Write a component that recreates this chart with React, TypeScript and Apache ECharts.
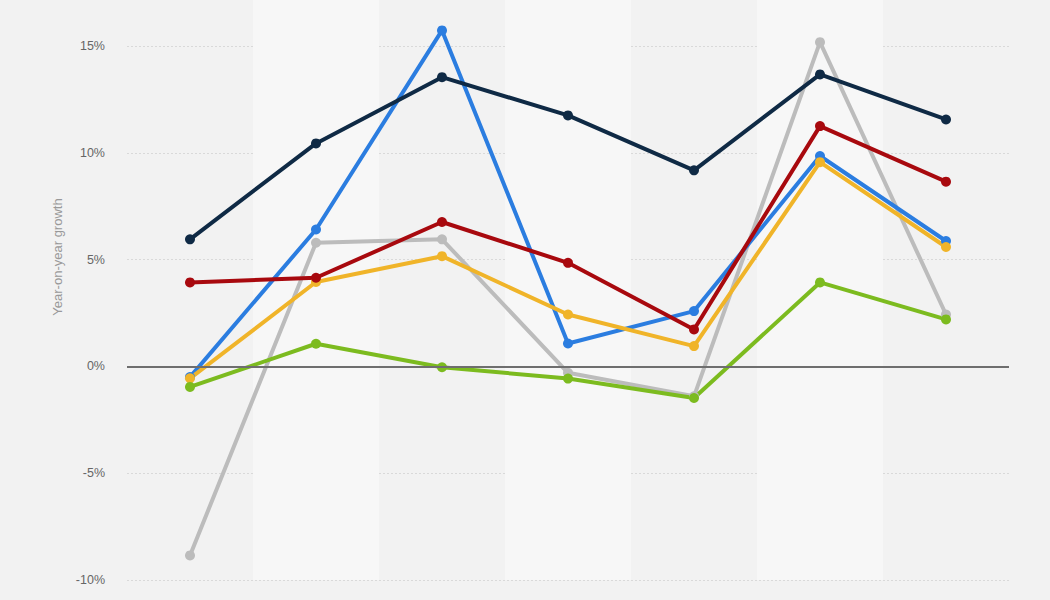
import React, { useEffect, useRef } from "react";
import * as echarts from "echarts";

const categories = ["1", "2", "3", "4", "5", "6", "7"];
const navy = [5.95, 10.44, 13.54, 11.75, 9.18, 13.67, 11.56];
const blue = [-0.5, 6.41, 15.73, 1.07, 2.59, 9.85, 5.87];
const red = [3.93, 4.15, 6.76, 4.85, 1.73, 11.25, 8.65];
const yellow = [-0.56, 3.95, 5.16, 2.43, 0.95, 9.56, 5.59];
const green = [-0.96, 1.06, -0.04, -0.57, -1.48, 3.93, 2.2];
const gray = [-8.85, 5.79, 5.95, -0.3, -1.4, 15.18, 2.43];
const yTicks = [-10, -5, 0, 5, 10, 15];

const seriesDefs = [
  { name: "gray", data: gray, color: "#bcbcbc" },
  { name: "blue", data: blue, color: "#2b7de0" },
  { name: "yellow", data: yellow, color: "#f0b429" },
  { name: "green", data: green, color: "#7cbb1f" },
  { name: "red", data: red, color: "#a8090e" },
  { name: "navy", data: navy, color: "#0f2a45" },
];

export default function App() {
  const ref = useRef<HTMLDivElement>(null);
  useEffect(() => {
    document.body.style.margin = "0";
    const chart = echarts.init(ref.current!, null, { renderer: "svg" });
    chart.setOption({
      animation: false,
      backgroundColor: "#f2f2f2",
      textStyle: { fontFamily: "Liberation Sans, Arial, sans-serif" },
      grid: [
        { left: 127, right: 41, top: 46, bottom: 20 },
        { left: 127, right: 41, top: 0, bottom: 20 },
      ],
      xAxis: [
        {
          type: "category",
          data: categories,
          gridIndex: 0,
          boundaryGap: true,
          axisLine: { show: false },
          axisTick: { show: false },
          axisLabel: { show: false },
          splitLine: { show: false },
          z: 3,
        },
        {
          type: "category",
          data: categories,
          gridIndex: 1,
          boundaryGap: true,
          axisLine: { show: false },
          axisTick: { show: false },
          axisLabel: { show: false },
          splitLine: { show: false },
          splitArea: {
            show: true,
            areaStyle: { color: ["rgba(0,0,0,0)", "#f7f7f7"] },
          },
          z: 0,
        },
      ],
      yAxis: [
        {
          type: "value",
          gridIndex: 0,
          min: yTicks[0],
          max: yTicks[yTicks.length - 1],
          interval: 5,
          axisLine: { show: false },
          axisTick: { show: false },
          axisLabel: {
            formatter: (v: number) => `${v}%`,
            color: "#666666",
            fontSize: 12.5,
            margin: 22,
          },
          splitLine: {
            lineStyle: { color: "#d9d9d9", type: [2, 2], width: 1 },
          },
        },
        {
          type: "value",
          gridIndex: 1,
          min: 0,
          max: 1,
          show: false,
          splitLine: { show: false },
        },
      ],
      graphic: [
        {
          type: "text",
          x: 57,
          y: 257,
          rotation: Math.PI / 2,
          style: {
            text: "Year-on-year growth",
            fill: "#999999",
            fontSize: 13,
            fontFamily: "Liberation Sans, Arial, sans-serif",
            align: "center",
            verticalAlign: "middle",
          },
        },
      ],
      series: [
        {
          type: "line",
          xAxisIndex: 1,
          yAxisIndex: 1,
          data: [],
          silent: true,
        },
        {
          type: "line",
          xAxisIndex: 0,
          yAxisIndex: 0,
          data: [],
          silent: true,
          markLine: {
            silent: true,
            symbol: "none",
            label: { show: false },
            lineStyle: { color: "#6e6e6e", width: 2, type: "solid" },
            data: [{ yAxis: 0 }],
          },
          z: 1,
        },
        ...seriesDefs.map((s) => ({
          name: s.name,
          type: "line",
          xAxisIndex: 0,
          yAxisIndex: 0,
          data: s.data,
          clip: false,
          symbol: "circle",
          symbolSize: 10,
          lineStyle: { color: s.color, width: 4 },
          itemStyle: { color: s.color },
          z: 3,
        })),
      ],
    });
    return () => chart.dispose();
  }, []);
  return <div ref={ref} style={{ width: 1050, height: 600 }} />;
}
